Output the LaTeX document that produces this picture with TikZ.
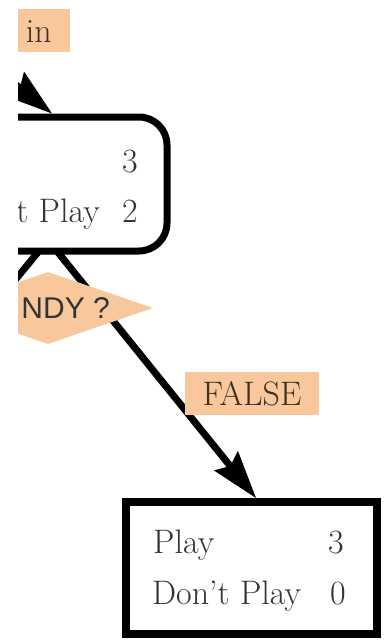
\documentclass[tikz,border=0pt]{standalone}
\usepackage{fontspec}
\newfontfamily\splitfont{Liberation Sans}
\usetikzlibrary{arrows.meta,shapes.geometric,backgrounds,calc}
\definecolor{labelfill}{RGB}{248,200,156}
\definecolor{labeltext}{RGB}{62,48,36}
\definecolor{boxtext}{RGB}{52,52,52}

\begin{document}
\begin{tikzpicture}[x=1pt,y=-1pt,
		edge/.style={line width=7pt,-{Stealth[length=48pt,width=31pt,inset=7pt,line width=0pt]}},
		tag/.style={fill=labelfill,text=labeltext,font=\fontsize{34}{40}\selectfont,inner xsep=18pt,inner ysep=10pt,text height=23pt,text depth=0pt},
		count/.style={text=boxtext,font=\fontsize{34}{40}\selectfont,inner sep=0pt}]
		\useasboundingbox (0,0) rectangle (385,643);
		\clip (18,0) rectangle (385,643);
		% boxes of the tree
		\node [draw,line width=7pt,rounded corners=28pt,fill=white,minimum width=267pt,minimum height=134pt] (rain) at (33.5,184) {};
		\node [draw,line width=8pt,fill=white,minimum width=251pt,minimum height=132pt] (leaf) at (251.5,568) {};
		\node [diamond,fill=labelfill,minimum width=210pt,minimum height=72pt,inner sep=0pt] (windy) at (48,308) {};
		\coordinate (parent) at (-28,50);
		\coordinate (fork) at (48,240);
		\coordinate (true) at (-40,347);
		% counts
		\node [count,anchor=base east] (rain-yes) at (138,172) {3};
		\node [count,anchor=base east] (rain-notext) at (100,222) {t Play};
		\node [count,anchor=base east] (rain-no) at (138,222) {2};
		\node [count,anchor=base west] (leaf-yestext) at (153,553) {Play};
		\node [count,anchor=base east] (leaf-yes) at (344,553) {3};
		\node [count,anchor=base west] (leaf-notext) at (152,604) {Don't Play};
		\node [count,anchor=base east] (leaf-no) at (346,604) {0};
		% labels
		\node [tag,anchor=base east] (branch) at (70,42) {in};
		\node [tag,anchor=base] (false) at (252,405) {FALSE};
		\node [text=boxtext,font=\splitfont\fontsize{30}{36}\selectfont,anchor=base east,inner sep=0pt] (windy-text) at (110,318) {NDY ?};
		% edges under everything
		\begin{scope}[on background layer]
			\clip (18,0) rectangle (385,643);
			\draw [edge] (parent) -- ($(rain.north)+(18.5,0)$);
			\draw [edge] (fork) -- ($(leaf.north)+(4.5,0)$);
			\draw [line width=7pt] (fork) -- (true);
		\end{scope}
	\end{tikzpicture}
\end{document}
